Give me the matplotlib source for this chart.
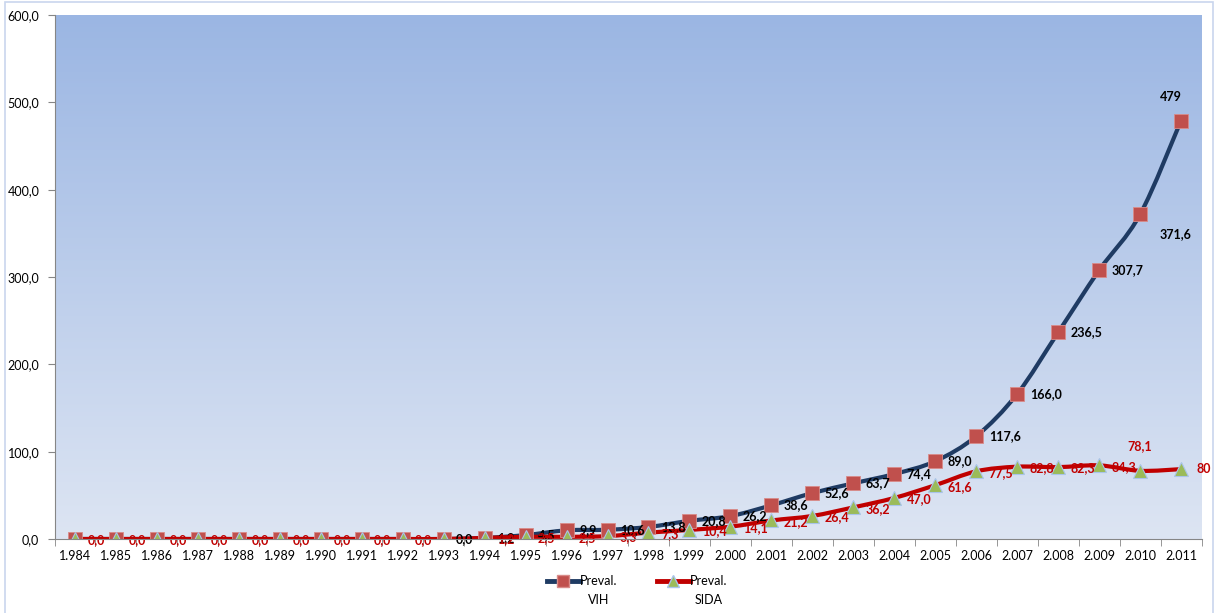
import numpy as np
import matplotlib
matplotlib.use("Agg")
import matplotlib.pyplot as plt
from matplotlib.path import Path
from matplotlib.patches import PathPatch, Rectangle
from matplotlib.lines import Line2D
from matplotlib.colors import LinearSegmentedColormap

plt.rcParams["font.family"] = ["Lato", "DejaVu Sans"]

# datos
years = ["1.984", "1.985", "1.986", "1.987", "1.988", "1.989", "1.990", "1.991", "1.992", "1.993",
         "1.994", "1.995", "1.996", "1.997", "1.998", "1.999", "2.000", "2.001", "2.002", "2.003",
         "2.004", "2.005", "2.006", "2.007", "2.008", "2.009", "2.010", "2.011"]
vih = [0.0, 0.0, 0.0, 0.0, 0.0, 0.0, 0.0, 0.0, 0.0, 0.0,
       1.2, 4.5, 9.9, 10.6, 13.8, 20.8, 26.2, 38.6, 52.6, 63.7,
       74.4, 89.0, 117.6, 166.0, 236.5, 307.7, 371.6, 479.0]
sida = [0.0, 0.0, 0.0, 0.0, 0.0, 0.0, 0.0, 0.0, 0.0, 0.0,
        1.2, 2.5, 2.5, 3.3, 7.3, 10.4, 14.1, 21.2, 26.4, 36.2,
        47.0, 61.6, 77.5, 82.8, 82.3, 84.3, 78.1, 80.0]
# etiquetas visibles ("" = tapada por la otra serie)
vih_lbl = [""] * 9 + ["0,0", "1,2", "4,5", "9,9", "10,6", "13,8", "20,8", "26,2", "38,6", "52,6", "63,7",
                      "74,4", "89,0", "117,6", "166,0", "236,5", "307,7", "371,6", "479"]
sida_lbl = ["0,0"] * 9 + ["", "1,2", "2,5", "2,5", "3,3", "7,3", "10,4", "14,1", "21,2", "26,4", "36,2",
                          "47,0", "61,6", "77,5", "82,8", "82,3", "84,3", "78,1", "80"]
yticks = [0, 100, 200, 300, 400, 500, 600]

C_VIH = "#1F3B63"
C_SIDA = "#C00000"
C_SQ = "#C0504D"
C_TRI = "#9BBB59"


def smooth_path(x, y):
    # curva tipo Excel (Bezier con puntos de control Catmull-Rom)
    pts = np.column_stack([x, y]).astype(float)
    verts = [pts[0]]
    codes = [Path.MOVETO]
    n = len(pts)
    for i in range(n - 1):
        p0 = pts[max(i - 1, 0)]
        p1 = pts[i]
        p2 = pts[i + 1]
        p3 = pts[min(i + 2, n - 1)]
        c1 = p1 + (p2 - p0) / 6.0
        c2 = p2 - (p3 - p1) / 6.0
        verts += [c1, c2, p2]
        codes += [Path.CURVE4] * 3
    return Path(verts, codes)


fig = plt.figure(figsize=(12.15, 6.13), dpi=100)
fig.patches.append(Rectangle((5 / 1215, -0.01), 1208 / 1215, 1.0 - 2 / 613 + 0.01,
                             transform=fig.transFigure, fill=False,
                             edgecolor="#C9D6EE", lw=1.2))
ax = fig.add_axes([54.5 / 1215, 74 / 613, 1147 / 1215, 524 / 613])

x = np.arange(len(years))
ax.set_xlim(-0.5, len(years) - 0.5)
ax.set_ylim(0, 600)

# fondo degradado
cmap = LinearSegmentedColormap.from_list("bg", ["#DDE5F3", "#9BB6E3"])
grad = np.linspace(0, 1, 256).reshape(-1, 1)
ax.imshow(grad, extent=[0, 1, 0, 1], transform=ax.transAxes, aspect="auto",
          cmap=cmap, origin="lower", zorder=0)

ax.add_patch(PathPatch(smooth_path(x, vih), fill=False, edgecolor=C_VIH, lw=3.0,
                       capstyle="round", zorder=2))
ax.add_patch(PathPatch(smooth_path(x, sida), fill=False, edgecolor=C_SIDA, lw=3.0,
                       capstyle="round", zorder=3))
ax.plot(x, vih, ls="none", marker="s", ms=10, mfc=C_SQ, mec="#D98B89", mew=0.6, zorder=4)
ax.plot(x, sida, ls="none", marker="^", ms=10, mfc=C_TRI, mec="#A9C4EA", mew=0.8, zorder=5)

# etiquetas de datos
lbl_font = dict(fontsize=9, fontweight="bold")
for i in range(len(years)):
    off = (9, 0)
    ha = "left"
    if i == 26:
        off, ha = (14, -14), "left"
    if i == 27:
        off, ha = (-7, 17), "center"
    ax.annotate(vih_lbl[i], (x[i], vih[i]), xytext=off, textcoords="offset points",
                ha=ha, va="center", color="black", zorder=6, **lbl_font)
for i in range(len(years)):
    off = (9, -1)
    ha = "left"
    if i == 26:
        off, ha = (0, 18), "center"
    if i == 27:
        off = (11, 0)
    ax.annotate(sida_lbl[i], (x[i], sida[i]), xytext=off, textcoords="offset points",
                ha=ha, va="center", color=C_SIDA, zorder=7, **lbl_font)

# ejes
ax.set_yticks(yticks)
ax.set_yticklabels([f"{v:.1f}".replace(".", ",") for v in yticks])
ax.set_xticks(x)
ax.set_xticklabels(years)
ax.set_xticks(np.arange(-0.5, len(years), 1), minor=True)
ax.tick_params(axis="x", which="major", length=0, labelsize=9, pad=8, colors="black")
ax.tick_params(axis="x", which="minor", length=5, color="#868686")
ax.tick_params(axis="y", length=5, color="#868686", labelsize=9, pad=6, direction="out")
for s in ["top", "right"]:
    ax.spines[s].set_visible(False)
for s in ["left", "bottom"]:
    ax.spines[s].set_color("#868686")
    ax.spines[s].set_zorder(8)

# leyenda
h1 = Line2D([], [], color=C_VIH, lw=3.5, marker="s", ms=9, mfc=C_SQ, mec="#D98B89")
h2 = Line2D([], [], color=C_SIDA, lw=3.5, marker="^", ms=9, mfc=C_TRI, mec="#A9C4EA")
leg = fig.legend([h1, h2], ["Preval.", "Preval."], loc="center",
                 bbox_to_anchor=(637 / 1215, 1 - 581 / 613), ncol=2, frameon=False,
                 fontsize=9, handlelength=2.6, handletextpad=0.0, columnspacing=3.2)
fig.canvas.draw()
r = fig.canvas.get_renderer()
for t, sub in zip(leg.get_texts(), ["VIH", "SIDA"]):
    bb = t.get_window_extent(r)
    fig.text((bb.x0 + bb.x1) / 2 / 1215, 1 - 600 / 613, sub, ha="center", va="center",
             fontsize=9)

fig.savefig("out.png", dpi=100)
